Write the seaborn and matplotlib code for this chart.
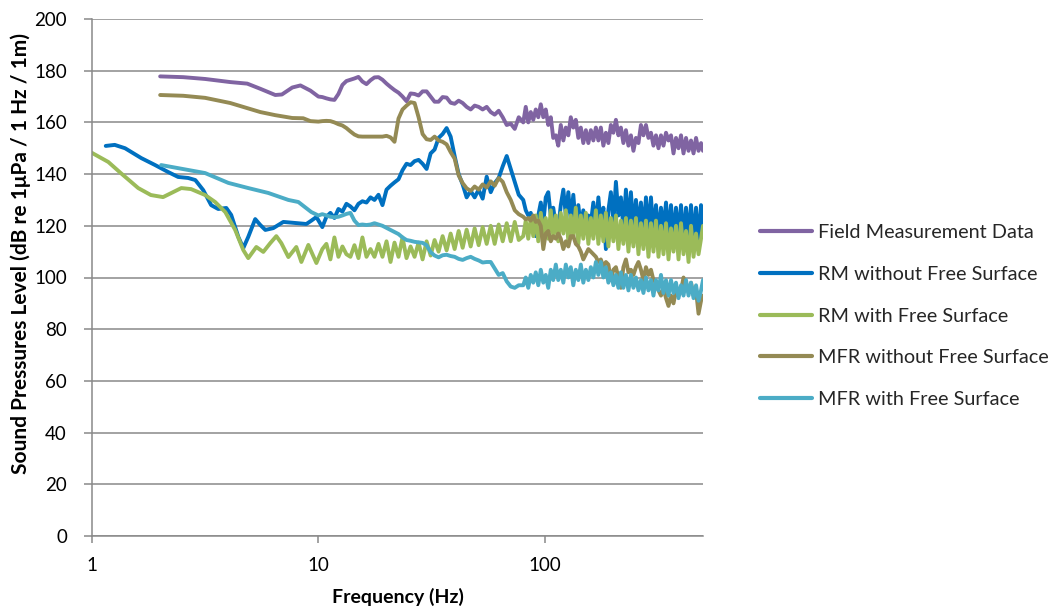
import matplotlib
matplotlib.use("Agg")
import matplotlib.pyplot as plt
import pandas as pd
import seaborn as sns
from matplotlib.ticker import FixedLocator, FixedFormatter, NullLocator

# ---------------------------------------------------------------------------
# Series names and colours
# ---------------------------------------------------------------------------
SERIES = [
    "Field Measurement Data",
    "RM without Free Surface",
    "RM with Free Surface",
    "MFR without Free Surface",
    "MFR with Free Surface",
]
COLORS = ["#8064A2", "#0070C0", "#9BBB59", "#948A54", "#4BACC6"]

# ---------------------------------------------------------------------------
# Shared frequency bins (Hz) above 10 Hz
# ---------------------------------------------------------------------------
FREQ_MID = [
    10.41, 10.85, 11.30, 11.77, 12.26, 12.77, 13.30, 13.85, 14.43, 15.03,
    15.65, 16.31, 16.99, 17.69, 18.43, 19.19, 20.00, 20.83, 21.69, 22.59,
    23.53, 24.51, 25.54, 26.60, 27.71, 28.86, 30.06, 31.32, 32.61, 33.96,
    35.38, 36.85, 38.39, 39.98, 41.65, 43.38, 45.18, 47.07, 49.01, 51.05,
    53.17, 55.39, 57.71, 60.08, 62.58, 65.20, 67.91, 70.75, 73.68, 76.74,
]
FREQ_HF = [
    80.35, 82.42, 84.55, 86.73, 88.97, 91.27, 93.62, 96.04, 98.52, 101.0,
    103.6, 106.3, 109.0, 111.9, 114.7, 117.7, 120.8, 123.9, 127.1, 130.3,
    133.7, 137.1, 140.7, 144.3, 148.0, 151.9, 155.8, 159.8, 163.9, 168.2,
    172.5, 176.9, 181.5, 186.2, 191.0, 195.9, 201.0, 206.2, 211.5, 216.9,
    222.5, 228.3, 234.2, 240.2, 246.4, 252.8, 259.3, 266.0, 272.8, 279.9,
    287.1, 294.5, 302.1, 309.9, 317.9, 326.1, 334.5, 343.2, 352.0, 361.1,
    370.4, 379.9, 389.8, 399.8, 410.1, 420.7, 431.6, 442.6, 454.1, 465.8,
    477.8, 490.1, 500.0,
]

# ---------------------------------------------------------------------------
# Field Measurement Data
# ---------------------------------------------------------------------------
FIELD_LOW_HZ = [2.00, 2.53, 3.16, 4.08, 4.85, 5.54, 6.45, 6.90, 7.67, 8.33, 9.22, 10.0]
FIELD_LOW_DB = [177.8, 177.5, 176.8, 175.6, 175.0, 173.0, 170.6, 170.8, 173.5, 174.3, 172.3, 170.0]
FIELD_MID_DB = [
    169.8, 169.3, 168.9, 168.7, 171.0, 174.5, 176.0, 176.5, 177.0, 177.6,
    175.8, 174.8, 176.3, 177.4, 177.5, 176.5, 175.0, 173.7, 172.5, 171.5,
    170.0, 168.2, 171.2, 171.0, 170.4, 172.0, 172.0, 170.0, 168.0, 168.0,
    169.8, 169.6, 167.6, 167.2, 168.4, 167.5, 166.0, 165.0, 166.5, 166.0,
    165.0, 166.0, 164.0, 163.0, 164.5, 162.0, 159.0, 159.5, 157.5, 162.0,
]
FIELD_HF_DB = [
    160, 166, 160, 164, 161, 165, 162, 167, 162, 165,
    159, 162, 154, 155, 151, 159, 153, 158, 155, 162,
    158, 161, 154, 158, 152, 157, 152, 157, 153, 158,
    153, 158, 151, 156, 152, 159, 156, 161, 155, 158,
    152, 157, 151, 155, 149, 154, 152, 159, 155, 159,
    154, 156, 151, 155, 150, 155, 151, 156, 153, 155,
    148, 154, 150, 155, 148, 154, 149, 153, 148, 154,
    149, 152, 149,
]

# ---------------------------------------------------------------------------
# RM without Free Surface
# ---------------------------------------------------------------------------
RM_NOFS_LOW_HZ = [1.15, 1.26, 1.40, 1.65, 1.90, 2.17, 2.40, 2.66, 2.86, 3.10, 3.36, 3.61, 3.92,
                  4.12, 4.43, 4.66, 4.90, 5.26, 5.54, 5.83, 6.32, 7.00, 7.91, 8.85, 9.31, 9.80]
RM_NOFS_LOW_DB = [150.9, 151.3, 150.0, 146.2, 143.5, 140.8, 138.9, 138.5, 137.7, 133.8, 128.0, 126.5, 126.9,
                  124.2, 115.7, 111.4, 115.7, 122.6, 120.3, 118.4, 119.1, 121.5, 121.1, 120.7, 122.0, 123.4]
RM_NOFS_MID_DB = [
    119.5, 123.5, 125.0, 123.0, 126.5, 125.5, 128.5, 127.5, 126.0, 128.5,
    129.5, 129.0, 131.0, 130.0, 132.0, 128.0, 134.0, 135.5, 136.8, 138.0,
    141.5, 144.0, 143.5, 145.0, 145.5, 144.0, 142.0, 148.0, 149.5, 154.0,
    155.5, 157.8, 154.5, 147.0, 140.0, 136.0, 131.0, 133.5, 131.0, 134.0,
    130.5, 139.0, 133.0, 136.5, 138.5, 143.0, 147.0, 142.0, 137.0, 132.0,
]
RM_NOFS_HF_DB = [
    130, 126, 124, 125, 119, 116, 124, 129, 121, 131,
    133, 124, 127, 120, 119, 128, 134, 124, 133, 122,
    132, 120, 128, 119, 126, 118, 124, 121, 129, 119,
    131, 120, 127, 111, 126, 133, 121, 137, 124, 131,
    119, 134, 120, 133, 118, 130, 119, 129, 117, 131,
    118, 131, 117, 128, 116, 127, 118, 129, 116, 128,
    115, 127, 116, 128, 114, 127, 115, 128, 114, 127,
    113, 128, 118,
]

# ---------------------------------------------------------------------------
# RM with Free Surface
# ---------------------------------------------------------------------------
RM_FS_LOW_HZ = [1.00, 1.18, 1.34, 1.60, 1.82, 2.06, 2.24, 2.48, 2.74, 3.16, 3.50, 3.88, 4.29,
                4.66, 4.90, 5.32, 5.71, 6.13, 6.52, 6.86, 7.37, 7.99, 8.41, 9.03, 9.80]
RM_FS_LOW_DB = [148.2, 144.7, 140.4, 134.6, 131.9, 131.1, 132.7, 134.6, 134.2, 131.9, 129.2, 125.3, 118.4,
                110.6, 107.5, 111.8, 109.9, 113.3, 116.0, 113.3, 107.9, 111.8, 106.0, 112.6, 105.6]
RM_FS_MID_DB = [
    111.0, 113.0, 107.0, 115.5, 108.0, 112.0, 109.0, 108.0, 112.5, 107.5,
    115.5, 108.0, 111.0, 108.0, 113.0, 108.0, 114.0, 106.0, 113.5, 108.0,
    115.5, 107.5, 112.0, 108.0, 113.5, 107.0, 114.0, 108.5, 114.5, 110.0,
    116.0, 110.5, 117.0, 111.0, 118.0, 111.5, 118.5, 112.0, 119.0, 112.5,
    119.5, 113.0, 120.0, 113.0, 120.5, 114.0, 121.0, 114.0, 121.5, 114.5,
]
RM_FS_HF_DB = [
    116, 122, 115, 123, 116, 124, 114, 125, 117, 123,
    115, 126, 116, 124, 114, 125, 117, 126, 114, 124,
    116, 127, 113, 124, 115, 125, 113, 123, 115, 126,
    113, 124, 114, 125, 112, 123, 114, 124, 111, 122,
    113, 123, 110, 122, 112, 123, 109, 121, 111, 122,
    108, 121, 110, 122, 108, 120, 109, 121, 107, 119,
    110, 120, 107, 121, 109, 118, 106, 120, 108, 117,
    109, 115, 120,
]

# ---------------------------------------------------------------------------
# MFR without Free Surface
# ---------------------------------------------------------------------------
MFR_NOFS_LOW_HZ = [2.00, 2.53, 3.16, 4.08, 5.54, 6.45, 7.67, 8.57, 9.22, 10.0]
MFR_NOFS_LOW_DB = [170.6, 170.3, 169.5, 167.5, 164.0, 162.8, 161.7, 161.6, 160.5, 160.3]
MFR_NOFS_MID_DB = [
    160.5, 160.6, 160.5, 160.0, 159.3, 158.8, 157.8, 156.5, 155.3, 154.6,
    154.5, 154.5, 154.5, 154.5, 154.5, 154.5, 154.8, 154.2, 152.5, 161.5,
    165.0, 166.5, 167.8, 167.5, 162.0, 155.5, 153.5, 153.2, 154.5, 153.0,
    152.5, 151.5, 148.5, 146.0, 139.5, 136.5, 134.5, 133.5, 135.2, 134.0,
    136.0, 134.8, 137.2, 135.5, 138.5, 137.0, 133.0, 130.0, 126.0, 124.5,
]
MFR_NOFS_HF_DB = [
    123.5, 122.5, 123, 122, 124, 121.5, 122, 120, 111, 117,
    118, 114, 116, 115, 117, 115, 111, 114, 112, 116,
    116, 113, 112, 110, 107, 109, 111, 110, 109, 108,
    106, 107, 104, 106, 105, 99, 103, 104, 100, 96,
    104, 107, 102, 103, 101, 104, 106, 103, 99, 104,
    101, 103, 99, 98, 95, 93, 96, 92, 89, 93,
    90, 95, 93, 95, 100, 97, 95, 98, 93, 95,
    86, 91, 93,
]

# ---------------------------------------------------------------------------
# MFR with Free Surface
# ---------------------------------------------------------------------------
MFR_FS_LOW_HZ = [2.02, 2.66, 3.16, 4.00, 4.90, 6.01, 7.37, 8.16, 9.31, 10.0]
MFR_FS_LOW_DB = [143.5, 141.6, 140.4, 136.6, 134.6, 132.7, 130.0, 129.2, 125.3, 124.0]
MFR_FS_MID_DB = [
    124.5, 124.0, 123.5, 123.3, 123.5, 124.0, 124.6, 125.0, 122.0, 120.3,
    120.5, 120.3, 120.5, 121.0, 120.5, 120.0, 119.2, 118.4, 117.6, 116.8,
    115.5, 114.5, 114.2, 113.8, 113.6, 113.4, 112.5, 109.8, 108.5, 107.8,
    108.6, 108.8, 108.3, 108.0, 107.2, 106.8, 107.5, 108.0, 107.2, 106.6,
    105.8, 106.0, 106.0, 103.5, 101.0, 101.7, 98.5, 96.5, 96.0, 97.0,
]
MFR_FS_HF_DB = [
    97, 100, 96, 101, 98, 102, 97, 103, 98, 101,
    96, 103, 99, 105, 99, 103, 98, 105, 100, 104,
    97, 103, 99, 105, 98, 103, 99, 104, 100, 106,
    101, 106, 100, 104, 98, 102, 97, 101, 96, 102,
    96, 101, 95, 101, 96, 100, 95, 99, 94, 100,
    95, 99, 93, 99, 95, 101, 94, 99, 93, 99,
    94, 98, 92, 97, 93, 99, 93, 98, 92, 97,
    91, 95, 99,
]

# ---------------------------------------------------------------------------
# Long-form table
# ---------------------------------------------------------------------------
parts = [
    (FIELD_LOW_HZ, FIELD_LOW_DB, FIELD_MID_DB, FIELD_HF_DB),
    (RM_NOFS_LOW_HZ, RM_NOFS_LOW_DB, RM_NOFS_MID_DB, RM_NOFS_HF_DB),
    (RM_FS_LOW_HZ, RM_FS_LOW_DB, RM_FS_MID_DB, RM_FS_HF_DB),
    (MFR_NOFS_LOW_HZ, MFR_NOFS_LOW_DB, MFR_NOFS_MID_DB, MFR_NOFS_HF_DB),
    (MFR_FS_LOW_HZ, MFR_FS_LOW_DB, MFR_FS_MID_DB, MFR_FS_HF_DB),
]
frames = []
for name, (lo_hz, lo_db, mid_db, hf_db) in zip(SERIES, parts):
    frames.append(pd.DataFrame({
        "freq": list(lo_hz) + FREQ_MID + FREQ_HF,
        "spl": list(lo_db) + mid_db + hf_db,
        "series": name,
    }))
df = pd.concat(frames, ignore_index=True)

# ---------------------------------------------------------------------------
# Styling
# ---------------------------------------------------------------------------
sns.set_theme(style="white")
plt.rcParams["font.family"] = ["Lato", "DejaVu Sans"]
GRAY = "#898989"
TEXT = "#000000"

fig = plt.figure(figsize=(10.55, 6.12), dpi=100)
ax = fig.add_axes([92 / 1055, 1 - 536 / 612, 611 / 1055, 517 / 612])

sns.lineplot(
    data=df, x="freq", y="spl", hue="series", hue_order=SERIES,
    palette=dict(zip(SERIES, COLORS)), estimator=None, sort=False,
    linewidth=2.8, ax=ax,
)

ax.set_xscale("log")
ax.set_xlim(1, 500)
ax.set_ylim(0, 200)

ax.xaxis.set_major_locator(FixedLocator([1, 10, 100]))
ax.xaxis.set_major_formatter(FixedFormatter(["1", "10", "100"]))
ax.xaxis.set_minor_locator(NullLocator())
ax.set_yticks(range(0, 201, 20))

ax.tick_params(axis="x", bottom=True, direction="out", length=5, width=1.1,
               color=GRAY, pad=10, labelsize=13.5, labelcolor=TEXT)
ax.tick_params(axis="y", left=True, direction="out", length=6, width=1.1,
               color=GRAY, pad=12, labelsize=13.5, labelcolor=TEXT)

ax.yaxis.grid(True, color=GRAY, linewidth=1.1)
ax.xaxis.grid(False)
ax.set_axisbelow(True)
for side in ("top", "right"):
    ax.spines[side].set_visible(False)
for side in ("left", "bottom"):
    ax.spines[side].set_color(GRAY)
    ax.spines[side].set_linewidth(1.1)

ax.set_xlabel("Frequency (Hz)", fontsize=14, fontweight="bold", color=TEXT)
ax.set_ylabel("Sound Pressures Level (dB re 1μPa / 1 Hz / 1m)", fontsize=15,
              fontweight="bold", color=TEXT)
ax.xaxis.set_label_coords(0.5, -0.1)
ax.yaxis.set_label_coords(-0.1, 0.547)

handles, labels = ax.get_legend_handles_labels()
leg = ax.legend(
    handles, labels, loc="center left",
    bbox_to_anchor=(760 / 1055, 1 - 316 / 612), bbox_transform=fig.transFigure,
    frameon=False, fontsize=14.3, handlelength=2.62, handletextpad=0.3,
    labelspacing=1.24, borderpad=0, borderaxespad=0,
)
for line in leg.get_lines():
    line.set_linewidth(3)

fig.savefig("out.png", dpi=100)
